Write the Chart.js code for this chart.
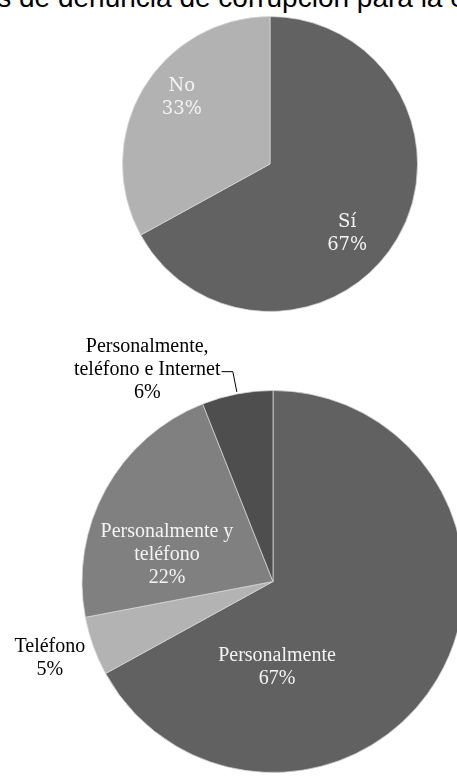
<!DOCTYPE html>
<html lang="es">
<head>
<meta charset="utf-8">
<title>Medios de denuncia de corrupción</title>
<script src="https://cdn.jsdelivr.net/npm/chart.js@4.4.1/dist/chart.umd.min.js"></script>
<style>
    html, body { margin: 0; padding: 0; background: #fff; overflow: hidden; }
    #page { position: relative; width: 457px; height: 776px; overflow: hidden; }
    #title {
        position: absolute; top: -16px; left: -79px;
        white-space: nowrap;
        font: 28px/28px "Liberation Sans", Arial, sans-serif;
        color: #000;
    }
    #top-wrap { position: absolute; left: 120px; top: 14px; width: 300px; height: 300px; }
    #bottom-wrap { position: absolute; left: 0; top: 330px; width: 546px; height: 446px; }
</style>
</head>
<body>
<div id="page">
    <div id="title">Medios de denuncia de corrupción para la entidad</div>
    <div id="top-wrap"><canvas id="top-chart" width="300" height="300"></canvas></div>
    <div id="bottom-wrap"><canvas id="bottom-chart" width="546" height="446"></canvas></div>
</div>

<script>
// ------------------------------------------------------------
// Data
// ------------------------------------------------------------
const knowLabels = ["Sí", "No"];
const knowValues = [67, 33];
const knowColors = ["#626262", "#b2b2b2"];

const channelLabels = [
    "Personalmente",
    "Teléfono",
    "Personalmente y\nteléfono",
    "Personalmente,\nteléfono e Internet"
];
const channelValues = [67, 5, 22, 6];
const channelColors = ["#616161", "#b3b3b3", "#808080", "#4e4e4e"];

// label placement: angle offset (deg) from slice middle, radius factor, text colour
const knowPlacement = [
    { da: 11.5, f: 0.705, color: "#f4f4f4" },
    { da: 6.1, f: 0.746, color: "#f4f4f4" }
];
const channelPlacement = [
    { da: 56.7, f: 0.448, color: "#f4f4f4" },
    { da: 0.9, f: 1.235, color: "#000" },
    { da: -14.8, f: 0.572, color: "#f4f4f4" },
    { da: -19.9, f: 1.29, color: "#000", leader: true }
];

// ------------------------------------------------------------
// Slice labels "Name\nNN%"
// ------------------------------------------------------------
const sliceLabels = {
    id: "sliceLabels",
    afterDatasetsDraw(chart, args, opts) {
        const ctx = chart.ctx;
        const ds = chart.data.datasets[0];
        const meta = chart.getDatasetMeta(0);
        const total = ds.data.reduce((a, b) => a + b, 0);
        ctx.save();
        ctx.font = opts.font;
        ctx.textAlign = "center";
        ctx.textBaseline = "middle";
        meta.data.forEach((arc, i) => {
            const p = opts.placement[i];
            const mid = (arc.startAngle + arc.endAngle) / 2 + p.da * Math.PI / 180;
            const r = arc.outerRadius * p.f;
            const cx = arc.x + Math.cos(mid) * r;
            const cy = arc.y + Math.sin(mid) * r;
            const pct = Math.round(ds.data[i] / total * 100) + "%";
            const lines = chart.data.labels[i].split("\n").concat(pct);
            const top = cy - (lines.length - 1) * opts.lineHeight / 2;
            ctx.fillStyle = p.color;
            lines.forEach((t, k) => ctx.fillText(t, cx, top + k * opts.lineHeight));

            if (p.leader) {
                // short connector from the end of the second line to the slice edge
                const row = top + 1 * opts.lineHeight + 2;
                const xEnd = cx + ctx.measureText(lines[1]).width / 2 + 1;
                const am = (arc.startAngle + arc.endAngle) / 2;
                const ex = arc.x + Math.cos(am) * (arc.outerRadius + 2);
                const ey = arc.y + Math.sin(am) * (arc.outerRadius + 2);
                ctx.strokeStyle = "#000";
                ctx.lineWidth = 1;
                ctx.beginPath();
                ctx.moveTo(xEnd, row);
                ctx.lineTo(ex - 4, row);
                ctx.lineTo(ex, ey);
                ctx.stroke();
            }
        });
        ctx.restore();
    }
};

function makePie(canvasId, labels, values, colors, placement, font, lineHeight, padding) {
    return new Chart(document.getElementById(canvasId), {
        type: "pie",
        data: {
            labels,
            datasets: [{
                data: values,
                backgroundColor: colors,
                borderColor: "rgba(215, 215, 215, 0.75)",
                borderWidth: 1
            }]
        },
        options: {
            responsive: false,
            animation: false,
            events: [],
            layout: { padding },
            plugins: {
                legend: { display: false },
                tooltip: { enabled: false },
                sliceLabels: { placement, font, lineHeight }
            }
        },
        plugins: [sliceLabels]
    });
}

makePie("top-chart", knowLabels, knowValues, knowColors, knowPlacement,
    '18px "DejaVu Serif", serif', 23, 2);

makePie("bottom-chart", channelLabels, channelValues, channelColors, channelPlacement,
    '20px "Liberation Serif", "Times New Roman", serif', 23,
    { top: 60, bottom: 3, left: 0, right: 0 });
</script>
</body>
</html>
